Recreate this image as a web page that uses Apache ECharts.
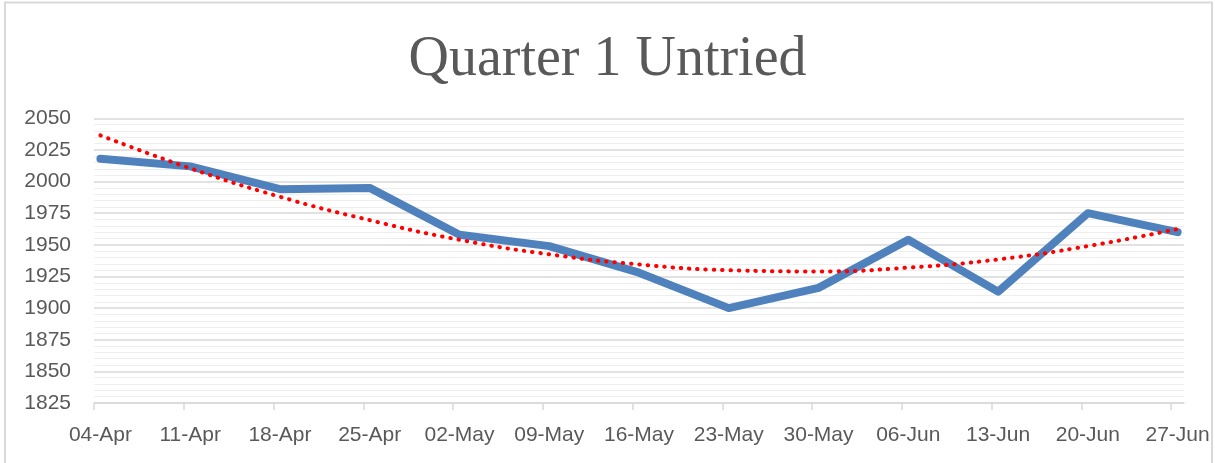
<!DOCTYPE html>
<html>
<head>
<meta charset="utf-8">
<script src="https://cdn.jsdelivr.net/npm/echarts@6/dist/echarts.min.js"></script>
<style>
html,body{margin:0;padding:0;background:#fff;}
#chart{width:1215px;height:463px;}
</style>
</head>
<body>
<div id="chart"></div>
<script>
const categories = ['04-Apr','11-Apr','18-Apr','25-Apr','02-May','09-May','16-May','23-May','30-May','06-Jun','13-Jun','20-Jun','27-Jun'];
const untried = [2018, 2012, 1994, 1995, 1958, 1949, 1928, 1900, 1916, 1954, 1913, 1975, 1960];
const trend = [2036.5, 2010.5, 1988, 1969.5, 1954, 1942.5, 1934.5, 1930, 1929, 1932, 1938.5, 1949, 1962.5];
const yTicks = [1825, 1850, 1875, 1900, 1925, 1950, 1975, 2000, 2025, 2050];

const DAYS = 7;
const tickPos = categories.map((c, i) => i * DAYS);
const pointPos = categories.map((c, i) => i * DAYS + 0.5);
const labelMap = {};
categories.forEach((c, i) => { labelMap[String(i * DAYS + 0.5)] = c; });

const chart = echarts.init(document.getElementById('chart'));
chart.setOption({
  animation: false,
  title: {
    text: 'Quarter 1 Untried',
    left: 'center',
    top: 27,
    textStyle: { fontFamily: 'Liberation Serif', fontSize: 56, fontWeight: 'normal', color: '#595959' }
  },
  graphic: [{
    type: 'rect',
    shape: { x: 5, y: 2.5, width: 1207, height: 470 },
    style: { fill: 'none', stroke: '#d9d9d9', lineWidth: 2 },
    silent: true
  }],
  grid: { left: 94, right: 31, top: 118.3, bottom: 60, containLabel: false },
  xAxis: {
    type: 'value',
    min: 0,
    max: categories.length * DAYS - DAYS + 1,
    splitLine: { show: false },
    axisLine: { show: true, onZero: false, lineStyle: { color: '#d9d9d9', width: 1.5 } },
    axisTick: { show: true, length: 7, customValues: tickPos, lineStyle: { color: '#d9d9d9', width: 1.5 } },
    axisLabel: {
      customValues: pointPos,
      formatter: v => labelMap[String(v)] || '',
      margin: 22,
      fontFamily: 'Liberation Sans',
      fontSize: 21,
      color: '#595959'
    }
  },
  yAxis: {
    type: 'value',
    min: yTicks[0],
    max: yTicks[yTicks.length - 1],
    interval: 25,
    axisLine: { show: false },
    axisTick: { show: false },
    axisLabel: { margin: 23, fontFamily: 'Liberation Sans', fontSize: 21, color: '#595959', formatter: v => String(v) },
    splitLine: { show: true, lineStyle: { color: '#d9d9d9', width: 1.5 } },
    minorTick: { show: false, splitNumber: 5 },
    minorSplitLine: { show: true, lineStyle: { color: '#eeeeee', width: 1.2 } }
  },
  series: [
    {
      name: 'Untried',
      type: 'line',
      data: untried.map((v, i) => [pointPos[i], v]),
      symbol: 'none',
      lineStyle: { color: '#4f81bd', width: 8, cap: 'round', join: 'round' },
      z: 2
    },
    {
      name: 'Trend',
      type: 'line',
      data: trend.map((v, i) => [pointPos[i], v]),
      symbol: 'none',
      smooth: 0.5,
      lineStyle: { color: '#ff0000', width: 4, type: [0.5, 7.8], cap: 'round' },
      z: 3
    }
  ]
});
</script>
</body>
</html>
